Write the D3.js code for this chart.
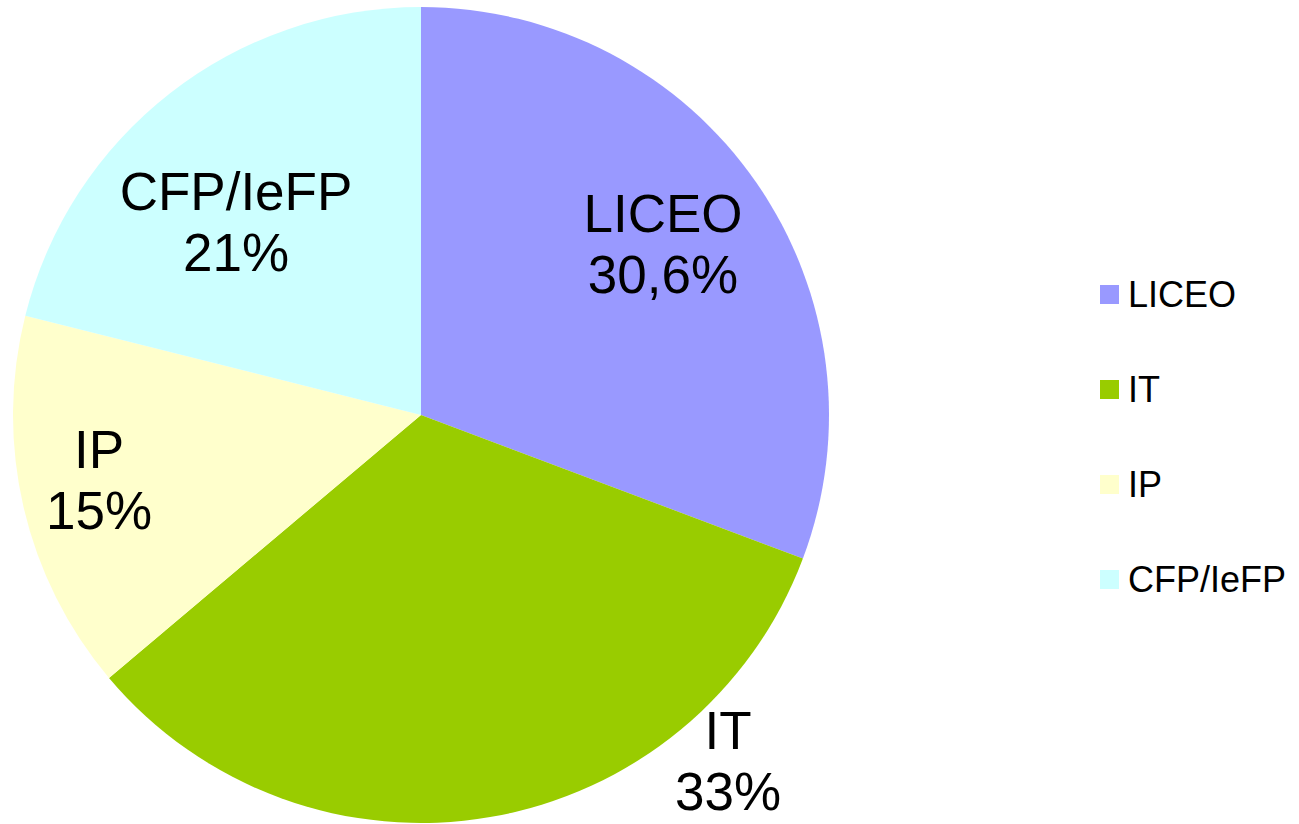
<!DOCTYPE html>
<html><head><meta charset="utf-8">
<script src="https://cdn.jsdelivr.net/npm/d3@7"></script>
<style>body{margin:0;background:#fff}svg{display:block}text{font-family:"Liberation Sans",Arial,sans-serif}</style>
</head><body>
<svg id="c" width="1299" height="824"></svg>
<script>
const categories = ["LICEO", "IT", "IP", "CFP/IeFP"];
const values = [30.6, 33, 15, 21];
const valueLabels = ["30,6%", "33%", "15%", "21%"];
const colors = ["#9999FF", "#99CC00", "#FFFFCC", "#CCFFFF"];
// label anchor positions (centre of the two-line label), in pixels relative to pie centre
const labelPos = [[242, -171], [307, 346], [-322, 65], [-185, -193]];

const svg = d3.select("#c");
const cx = 421, cy = 415, r = 408;
const g = svg.append("g").attr("transform", `translate(${cx},${cy})`);
const pie = d3.pie().sort(null).value(d => d)(values);
const arc = d3.arc().innerRadius(0).outerRadius(r);
g.selectAll("path").data(pie).join("path")
  .attr("d", arc).attr("fill", (d, i) => colors[i]);

const lbl = g.selectAll("text.lbl").data(pie).join("text")
  .attr("class", "lbl").attr("text-anchor", "middle")
  .attr("font-size", 53).attr("fill", "#000");
lbl.append("tspan").attr("x", (d, i) => labelPos[i][0]).attr("y", (d, i) => labelPos[i][1] - 12)
  .text((d, i) => categories[i]);
lbl.append("tspan").attr("x", (d, i) => labelPos[i][0]).attr("y", (d, i) => labelPos[i][1] + 49)
  .text((d, i) => valueLabels[i]);

const y = d3.scalePoint().domain(categories).range([294, 579]);
const leg = svg.append("g");
const items = leg.selectAll("g").data(categories).join("g")
  .attr("transform", d => `translate(1100,${y(d)})`);
items.append("rect").attr("x", 0).attr("y", -9).attr("width", 19).attr("height", 19)
  .attr("fill", (d, i) => colors[i]);
items.append("text").attr("x", 28).attr("y", 13).attr("font-size", 36).text(d => d);
</script>
</body></html>
